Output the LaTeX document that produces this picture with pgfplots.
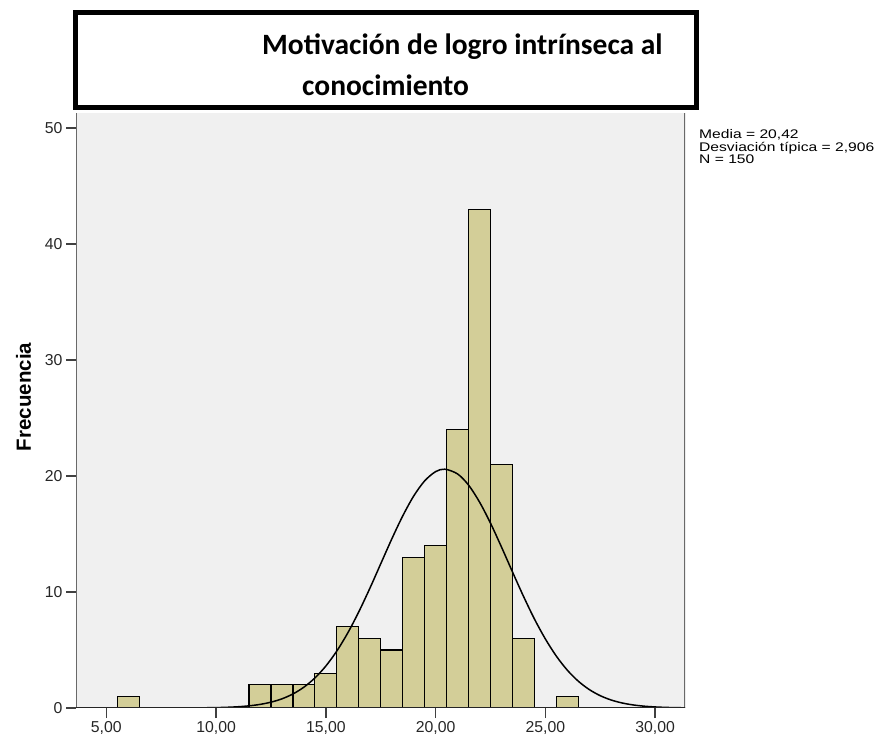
\documentclass[border=0pt]{standalone}
\usepackage{graphicx}
\usepackage{pgfplots}
\pgfplotsset{compat=1.18}
\usepackage{fontspec}
\setmainfont{Liberation Sans}
\newfontfamily\titlefont{Carlito}
\definecolor{bargold}{RGB}{211,206,152}
\definecolor{plotbg}{RGB}{240,240,240}
\definecolor{axisgray}{RGB}{105,105,105}
\begin{document}
\begin{tikzpicture}
\path[use as bounding box] (0pt,0pt) rectangle (876pt,739pt);
\begin{axis}[
  at={(76pt,31pt)}, anchor=south west,
  scale only axis, width=609pt, height=595pt,
  xmin=3.62, xmax=31.36, ymin=0, ymax=51.3,
  axis background/.style={fill=plotbg},
  axis line style={draw=none},
  xtick={5,10,15,20,25,30},
  xticklabels={{5,00},{10,00},{15,00},{20,00},{25,00},{30,00}},
  ytick={0,10,20,30,40,50},
  yticklabels={0,10,20,30,40,50},
  tick align=outside, major tick length=10pt,
  tick pos=left,
  tick style={draw=black!75, line width=1.5pt},
  ticklabel style={font=\fontsize{15.8}{18}\selectfont, text=black!85},
]
\addplot[ybar, bar width=1, fill=bargold, draw=black, line width=1.2pt] coordinates {
 (6,1) (12,2) (13,2) (14,2) (15,3) (16,7) (17,6) (18,5) (19,13) (20,14)
 (21,24) (22,43) (23,21) (24,6) (26,1)
};
\addplot[black, line width=1.5pt, smooth, no marks] coordinates {
 (3.62,0) (6,0) (8,0.002) (9,0.009) (10,0.033) (10.5,0.061) (11,0.107) (11.5,0.185)
 (12,0.309) (12.5,0.502) (13,0.790) (13.5,1.209) (14,1.795) (14.5,2.586)
 (15,3.616) (15.5,4.911) (16,6.475) (16.5,8.288) (17,10.30) (17.5,12.43)
 (18,14.56) (18.5,16.55) (19,18.27) (19.5,19.58) (20,20.38) (20.42,20.59)
 (21,20.18) (21.5,19.22) (22,17.76) (22.5,15.94) (23,13.88) (23.5,11.74)
 (24,9.64) (24.5,7.68) (25,5.95) (25.5,4.47) (26,3.26) (26.5,2.31)
 (27,1.59) (27.5,1.06) (28,0.686) (28.5,0.432) (29,0.264) (29.5,0.156)
 (30,0.090) (30.5,0.050) (31,0.027) (31.36,0.016)
};
\draw[axisgray, line width=2pt] (rel axis cs:0,0) -- (rel axis cs:0,1);
\draw[axisgray, line width=2pt] (rel axis cs:1,0) -- (rel axis cs:1,1);
\draw[black!85, line width=2pt] (rel axis cs:0,0) -- (rel axis cs:1,0);
\end{axis}
\draw[line width=5pt, fill=white] (75.5pt,631.5pt) rectangle (696pt,726.5pt);
\node[anchor=base west, inner sep=0pt, font=\titlefont\bfseries\fontsize{29.5}{34}\selectfont] at (262pt,684pt) {Motivación de logro intrínseca al};
\node[anchor=base west, inner sep=0pt, font=\titlefont\bfseries\fontsize{29.5}{34}\selectfont] at (302pt,643pt) {conocimiento};
\node[anchor=base west, inner sep=0pt, font=\fontsize{12.5}{13}\selectfont] at (699pt,600pt) {\scalebox{1.25}[1]{Media = 20,42}};
\node[anchor=base west, inner sep=0pt, font=\fontsize{12.5}{13}\selectfont] at (699pt,587.5pt) {\scalebox{1.25}[1]{Desviación típica = 2,906}};
\node[anchor=base west, inner sep=0pt, font=\fontsize{12.5}{13}\selectfont] at (699pt,575.5pt) {\scalebox{1.25}[1]{N = 150}};
\node[rotate=90, anchor=base, inner sep=0pt, font=\bfseries\fontsize{20.5}{24}\selectfont] at (31pt,342pt) {Frecuencia};
\end{tikzpicture}
\end{document}
